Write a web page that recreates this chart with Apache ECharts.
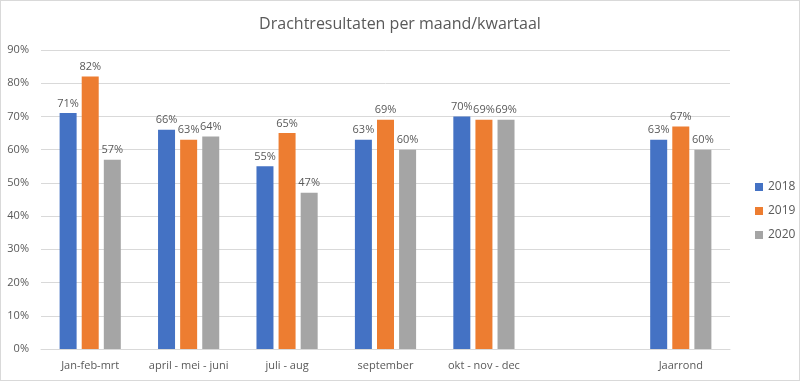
<!DOCTYPE html>
<html><head><meta charset="utf-8">
<script src="https://cdn.jsdelivr.net/npm/echarts@6/dist/echarts.min.js"></script>
<style>
html,body{margin:0;padding:0;background:#fff;}
#c{width:800px;height:381px;box-sizing:border-box;border:1px solid #d9d9d9;}
</style></head>
<body><div id="c"></div>
<script>
const categories = ['Jan-feb-mrt', 'april - mei - juni', 'juli - aug', 'september', 'okt - nov - dec', '', 'Jaarrond'];
const s2018 = [71, 66, 55, 63, 70, null, 63];
const s2019 = [82, 63, 65, 69, 69, null, 67];
const s2020 = [57, 64, 47, 60, 69, null, 60];
const seriesNames = ['2018', '2019', '2020'];
const colors = ['#4472C4', '#ED7D31', '#A5A5A5'];

const chart = echarts.init(document.getElementById('c'), null, {renderer: 'canvas'});
const font = 'Open Sans';
const txt = '#595959';
function mk(name, data, color) {
  return {
    name: name, type: 'bar', data: data, barWidth: 17, barGap: '30%',
    itemStyle: {color: color},
    label: {show: true, position: 'top', distance: 4, formatter: p => p.value + '%',
      color: txt, fontSize: 11, fontFamily: font}
  };
}
chart.setOption({
  animation: false,
  color: colors,
  title: {text: 'Drachtresultaten per maand/kwartaal', left: 'center', top: 10,
    textStyle: {color: txt, fontSize: 16, fontWeight: 'normal', fontFamily: font}},
  legend: {orient: 'vertical', left: 749, top: 175, itemWidth: 8, itemHeight: 8, itemGap: 12,
    icon: 'rect', textStyle: {color: txt, fontSize: 12, fontFamily: font}},
  grid: {left: 40, right: 69, top: 49, bottom: 31, containLabel: false},
  xAxis: {type: 'category', data: categories,
    axisLine: {lineStyle: {color: '#d9d9d9'}}, axisTick: {show: false},
    axisLabel: {color: txt, fontSize: 11, fontFamily: font, margin: 11, interval: 0}},
  yAxis: {type: 'value', min: 0, max: 90, interval: 10,
    axisLabel: {formatter: '{value}%', color: txt, fontSize: 11, fontFamily: font, margin: 12},
    splitLine: {lineStyle: {color: '#d9d9d9'}}, axisLine: {show: false}, axisTick: {show: false}},
  series: [mk(seriesNames[0], s2018, colors[0]), mk(seriesNames[1], s2019, colors[1]), mk(seriesNames[2], s2020, colors[2])]
});
</script></body></html>
